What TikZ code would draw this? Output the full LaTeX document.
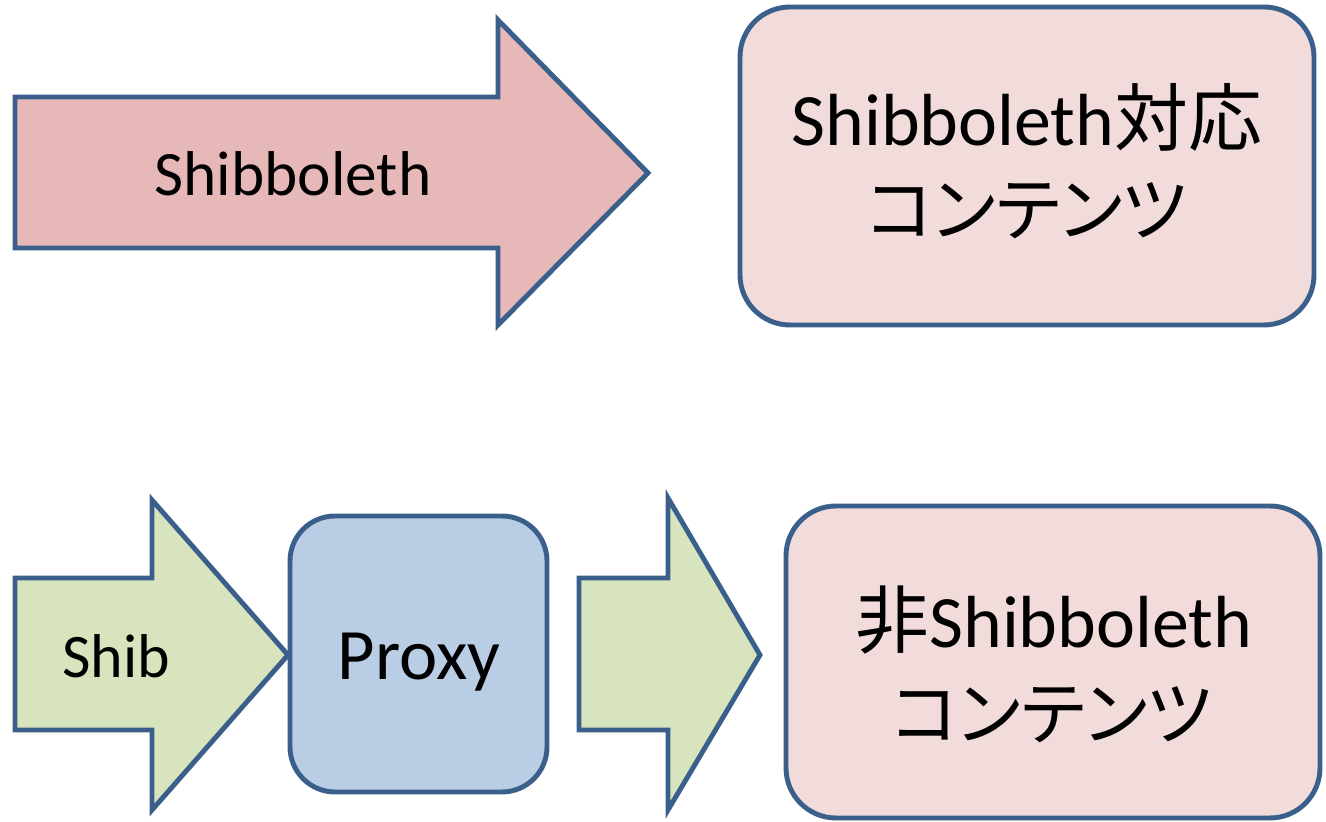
\documentclass[tikz,border=0pt]{standalone}
\usepackage{fontspec}
\setmainfont{Carlito}
\newfontfamily\jp[RawFeature=+palt]{Noto Sans CJK JP}

\definecolor{outline}{HTML}{3A5F8B}
\definecolor{shibred}{HTML}{E6B9B8}
\definecolor{contentpink}{HTML}{F2DCDB}
\definecolor{shibgreen}{HTML}{D7E4BD}
\definecolor{proxyblue}{HTML}{B9CDE5}

\begin{document}
\begin{tikzpicture}[x=0.01cm, y=-0.01cm,
    blockarrow/.style={draw=outline, line width=1.4pt, line join=miter},
    roundbox/.style={draw=outline, line width=1.4pt, rounded corners=0.5cm},
    label/.style={anchor=base, inner sep=0pt}]
  \useasboundingbox (0,0) rectangle (1326,822);

  % Shibboleth goes straight to the content
  \filldraw[blockarrow, fill=shibred] (15,97) -- (498,97) -- (498,20) -- (648,173)
    -- (498,325) -- (498,248) -- (15,248) -- cycle;
  \node[label] (shibtop) at (293,196) {\fontsize{18pt}{18pt}\selectfont Shibboleth};

  \filldraw[roundbox, fill=contentpink] (740,7) rectangle (1314,325);
  \node[label] (shibcontent) at (1027,146)
    {\fontsize{21pt}{21pt}\selectfont Shibboleth{\jp 対応}};
  \node[label] (shibcontent2) at (1027,236)
    {\fontsize{20pt}{20pt}\selectfont\jp コンテンツ};

  % Shib -> Proxy -> other content
  \filldraw[blockarrow, fill=shibgreen] (15,578) -- (152,578) -- (152,500) -- (288,655)
    -- (152,810) -- (152,730) -- (15,730) -- cycle;
  \node[label] (shibbottom) at (116,678) {\fontsize{17.6pt}{18pt}\selectfont Shib};

  \filldraw[roundbox, rounded corners=0.45cm, fill=proxyblue] (290,516) rectangle (547,792);
  \node[label] (proxy) at (419,680) {\fontsize{20.6pt}{21pt}\selectfont Proxy};

  \filldraw[blockarrow, fill=shibgreen] (579,578) -- (668,578) -- (668,498) -- (760,655)
    -- (668,810) -- (668,730) -- (579,730) -- cycle;

  \filldraw[roundbox, fill=contentpink] (786,506) rectangle (1320,818);
  \node[label] (othercontent) at (1054,648)
    {\fontsize{21pt}{21pt}\selectfont{\jp 非}Shibboleth};
  \node[label] (othercontent2) at (1052,740)
    {\fontsize{20pt}{20pt}\selectfont\jp コンテンツ};
\end{tikzpicture}
\end{document}
